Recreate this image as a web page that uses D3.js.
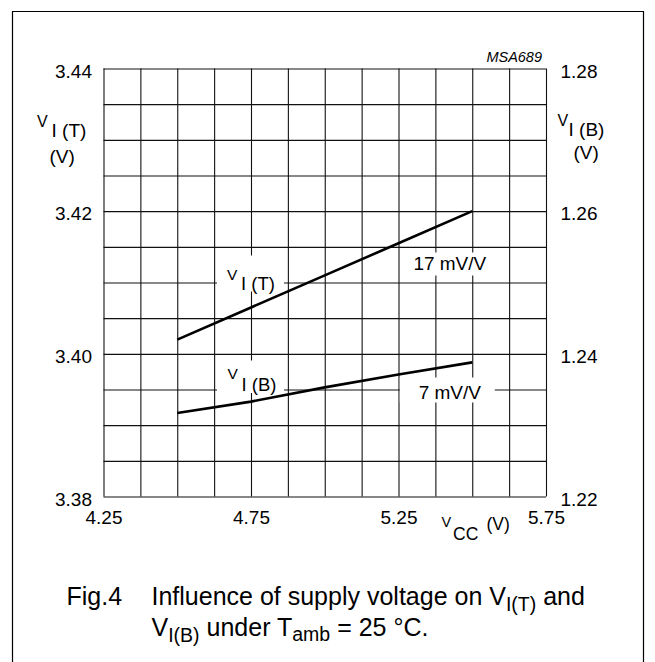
<!DOCTYPE html>
<html>
<head>
<meta charset="utf-8">
<script src="https://cdn.jsdelivr.net/npm/d3@7"></script>
<style>
  body { margin: 0; background: #fff; }
  svg text { font-family: "Liberation Sans", Arial, Helvetica, sans-serif; fill: #000; }
</style>
</head>
<body>
<div id="chart"></div>
<script>
// Supply voltage influence chart (Fig.4, MSA689)

var vccValues = [4.5, 4.75, 5.0, 5.25, 5.5];
// V I(T) in volts, left axis
var viTop = [3.402, 3.4065, 3.411, 3.4155, 3.420];
// V I(B) in volts, right axis
var viBottom = [1.2317, 1.2333, 1.2353, 1.2371, 1.2388];

// tick labels
var xTickLabels = [4.25, 4.75, 5.25, 5.75];
var leftTickLabels = [3.38, 3.40, 3.42, 3.44];
var rightTickLabels = [1.22, 1.24, 1.26, 1.28];
var slopeLabels = ["17 mV/V", "7 mV/V"];

//////////////////////////////////////////////////////////////////////
// namespace for layout values
var ns = {};
ns.width = 655;
ns.height = 662;
ns.left = 103.5;    // plot area edges
ns.right = 546;
ns.top = 68.5;
ns.bottom = 496.5;

var svg = d3.select("#chart")
    .append("svg")
    .attr("width", ns.width)
    .attr("height", ns.height);

// scales
var xScale = d3.scaleLinear().domain([4.25, 5.75]).range([ns.left, ns.right]);
var yLeft = d3.scaleLinear().domain([3.38, 3.44]).range([ns.bottom, ns.top]);
var yRight = d3.scaleLinear().domain([1.22, 1.28]).range([ns.bottom, ns.top]);

// outer frame
svg.append("path")
    .attr("d", "M12.5,662V11.5H643.5V662")
    .attr("fill", "none")
    .attr("stroke", "#000")
    .attr("stroke-width", 1.2);

// grid, one line per 0.125 V and per 5 mV
var gridX = d3.range(0, 13).map(function (i) { return 4.25 + i * 0.125; });
var gridY = d3.range(0, 13).map(function (i) { return 3.38 + i * 0.005; });

var gx = svg.append("g")
    .attr("transform", "translate(0," + ns.bottom + ")")
    .style("color", "#111")
    .call(d3.axisBottom(xScale).tickValues(gridX)
          .tickSize(-(ns.bottom - ns.top)).tickFormat(""));
gx.select(".domain").remove();

var gy = svg.append("g")
    .attr("transform", "translate(" + ns.left + ",0)")
    .style("color", "#111")
    .call(d3.axisLeft(yLeft).tickValues(gridY)
          .tickSize(-(ns.right - ns.left)).tickFormat(""));
gy.select(".domain").remove();
svg.selectAll(".tick line").attr("stroke-width", 1.1);

// tick labels as axes with no tick marks
function labelAxis(axis, transform) {
    var g = svg.append("g")
        .attr("transform", transform)
        .call(axis.tickSize(0));
    g.select(".domain").remove();
    g.selectAll("text")
        .attr("font-family", null)
        .style("font-size", "19px");
    return g;
}

labelAxis(d3.axisBottom(xScale).tickValues(xTickLabels).tickFormat(d3.format(".2f")),
          "translate(0," + ns.bottom + ")")
    .selectAll("text").attr("y", 27.5).attr("dy", null);

labelAxis(d3.axisLeft(yLeft).tickValues(leftTickLabels).tickFormat(d3.format(".2f")),
          "translate(" + ns.left + ",0)")
    .selectAll("text").attr("x", -11.5).attr("dy", "8.5px");

labelAxis(d3.axisRight(yRight).tickValues(rightTickLabels).tickFormat(d3.format(".2f")),
          "translate(" + ns.right + ",0)")
    .selectAll("text").attr("x", 14.5).attr("dy", "8.5px");

// the two curves
var lineTop = d3.line()
    .x(function (d, i) { return xScale(vccValues[i]); })
    .y(function (d) { return yLeft(d); });
var lineBottom = d3.line()
    .x(function (d, i) { return xScale(vccValues[i]); })
    .y(function (d) { return yRight(d); });

svg.append("path").datum(viTop)
    .attr("d", lineTop)
    .attr("fill", "none").attr("stroke", "#000").attr("stroke-width", 2.6);
svg.append("path").datum(viBottom)
    .attr("d", lineBottom)
    .attr("fill", "none").attr("stroke", "#000").attr("stroke-width", 2.6);

// V with a lowered subscript, e.g. V I (T)
function subLabel(x, y, main, sub, mainSize, subSize, subX, subDy) {
    var g = svg.append("g");
    g.append("text").attr("x", x).attr("y", y)
        .style("font-size", mainSize + "px").text(main);
    g.append("text").attr("x", x + subX).attr("y", y + subDy)
        .style("font-size", subSize + "px").text(sub);
    return g;
}

// white patch behind a label, so grid lines stop at it
function patch(x0, y0, x1, y1) {
    svg.append("rect")
        .attr("x", x0).attr("y", y0)
        .attr("width", x1 - x0).attr("height", y1 - y0)
        .attr("fill", "#fff");
}

// curve labels inside the plot
var cx = xScale(4.75);
var cyT = yLeft(3.41);
patch(cx - 34, cyT - 27, cx + 33, cyT + 9);
subLabel(cx - 24, cyT - 3, "V", "I (T)", 15.5, 18.5, 14, 10.5);

var cyB = yLeft(3.395);
patch(cx - 34, cyB - 29, cx + 33, cyB + 3.5);
subLabel(cx - 23.5, cyB - 10.5, "V", "I (B)", 15.5, 18.5, 14, 11.5);

var sx = xScale(5.4375) - 4;
patch(sx - 40, cyT - 30, sx + 45, cyT - 7);
svg.append("text").attr("x", sx).attr("y", cyT - 12.5)
    .attr("text-anchor", "middle").style("font-size", "19px").text(slopeLabels[0]);

patch(sx - 50, cyB - 12, sx + 45, cyB + 13);
svg.append("text").attr("x", sx).attr("y", cyB + 9.5)
    .attr("text-anchor", "middle").style("font-size", "19px").text(slopeLabels[1]);

// axis titles
subLabel(37, 127, "V", "I (T)", 16, 19, 14.5, 10);
svg.append("text").attr("x", 49.5).attr("y", 162.5)
    .style("font-size", "19px").text("(V)");

subLabel(557.5, 125.5, "V", "I (B)", 16, 19, 11, 10.5);
svg.append("text").attr("x", 573.5).attr("y", 158.5)
    .style("font-size", "19px").text("(V)");

subLabel(441.5, 527, "V", "CC", 14.5, 17.5, 11.5, 13);
svg.append("text").attr("x", 486.5).attr("y", 530)
    .style("font-size", "17.5px").text("(V)");

// figure code
svg.append("text").attr("x", 542).attr("y", 62)
    .attr("text-anchor", "end")
    .style("font-size", "14.5px").style("font-style", "italic")
    .text("MSA689");

// caption
var cap1 = svg.append("text").attr("y", 605).style("font-size", "25px");
cap1.append("tspan").attr("x", 66.5).text("Fig.4");
cap1.append("tspan").attr("x", 151.5).text("Influence of supply voltage on V");
cap1.append("tspan").attr("dy", 6).style("font-size", "19.5px").text("I(T)");
cap1.append("tspan").attr("dy", -6).text(" and");

var cap2 = svg.append("text").attr("y", 636).style("font-size", "25px");
cap2.append("tspan").attr("x", 151.5).text("V");
cap2.append("tspan").attr("dy", 6).style("font-size", "19.5px").text("I(B)");
cap2.append("tspan").attr("dy", -6).text(" under T");
cap2.append("tspan").attr("dy", 5).style("font-size", "19.5px").text("amb");
cap2.append("tspan").attr("dy", -5).text(" = 25 \u00B0C.");
</script>
</body>
</html>
